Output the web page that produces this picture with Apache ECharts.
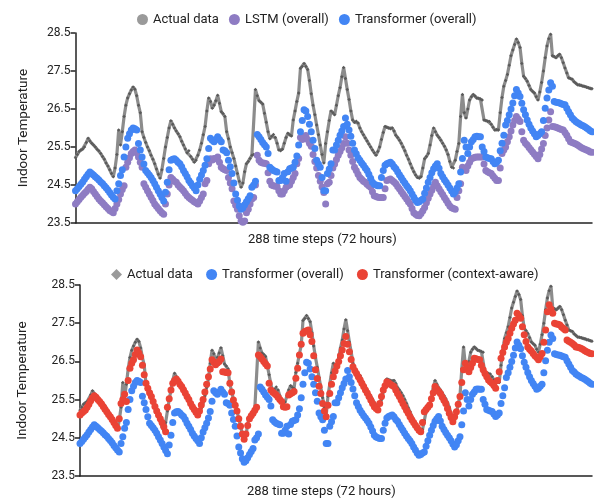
<!DOCTYPE html>
<html><head><meta charset="utf-8">
<script src="https://cdn.jsdelivr.net/npm/echarts@6/dist/echarts.min.js"></script>
<style>html,body{margin:0;padding:0;background:#fff}#c{width:594px;height:499px}</style>
</head><body><div id="c"></div>
<script>
const actual = [
25.22,25.3,25.38,25.42,25.45,25.5,25.62,25.73,25.66,25.6,
25.55,25.5,25.44,25.4,25.33,25.25,25.18,25.08,25.0,24.9,
24.8,24.72,24.95,25.3,25.95,25.55,25.9,26.3,26.6,26.79,
26.9,27.0,27.08,27.02,26.85,26.6,26.4,25.9,25.75,25.62,
25.5,25.4,25.28,25.18,25.06,24.92,24.78,24.68,24.9,25.2,
25.5,25.75,26.0,26.19,26.1,26.0,25.92,25.85,25.77,25.65,
25.55,25.45,25.35,25.4,25.25,25.18,25.1,25.15,25.28,25.42,
25.6,25.82,26.04,26.45,26.79,26.7,26.52,26.6,26.72,26.86,
26.65,26.43,26.38,26.3,25.9,25.72,25.5,25.35,25.2,25.0,
24.8,24.6,24.44,24.55,24.85,25.06,25.12,25.2,25.28,25.3,
27.01,26.85,26.72,26.68,26.63,26.39,26.15,25.9,25.72,25.78,
25.83,25.75,25.6,25.42,25.4,25.44,25.6,25.75,25.86,25.82,
25.79,26.21,26.45,26.7,26.92,27.57,27.62,27.7,27.62,27.54,
27.25,26.9,26.6,26.35,26.08,25.82,25.55,25.3,25.08,25.59,
25.9,26.2,26.45,26.4,26.35,26.6,26.85,27.06,27.35,27.59,
27.3,27.01,26.75,26.45,26.21,26.15,26.18,26.13,26.0,25.9,
25.82,25.74,25.66,25.58,25.5,25.42,25.35,25.28,25.38,25.5,
25.7,25.88,26.04,26.02,26.0,25.98,26.0,25.92,25.81,25.75,
25.68,25.6,25.5,25.4,25.28,25.18,25.06,24.95,24.85,24.76,
24.7,24.68,24.72,24.95,25.19,25.25,25.33,25.55,25.8,26.0,
25.9,25.81,25.75,25.68,25.6,25.52,25.42,25.3,25.12,24.97,
24.95,25.15,25.38,25.59,26.3,26.88,26.4,26.26,26.5,26.74,
26.82,26.88,26.84,26.79,26.78,26.76,26.74,26.21,26.2,26.18,
26.17,26.1,26.02,25.95,25.96,25.95,26.4,26.8,27.1,27.25,
27.41,27.65,27.9,28.05,28.2,28.34,28.25,28.12,27.7,27.36,
27.3,27.23,27.12,27.01,26.96,26.92,26.82,26.74,26.95,27.2,
27.5,27.85,28.16,28.35,28.47,27.9,27.88,27.85,27.9,27.94,
27.85,27.72,27.58,27.45,27.32,27.3,27.28,27.22,27.18,27.14,
27.13,27.12,27.1,27.09,27.07,27.06,27.04,27.03];

const lstm = [
24.0,24.06,24.12,24.18,24.23,24.28,24.33,24.39,24.44,24.4,
24.33,24.26,24.2,24.13,24.08,24.03,23.98,23.93,23.88,23.83,
23.8,23.77,23.88,24.0,24.12,24.26,24.38,24.48,24.97,25.1,
25.22,25.33,25.38,25.42,25.35,25.24,25.1,24.97,24.53,24.44,
24.35,24.26,24.18,24.09,24.0,23.94,23.88,23.82,23.77,23.73,
24.0,24.26,24.5,24.7,24.65,24.6,24.57,24.5,24.45,24.4,
24.35,24.28,24.22,24.17,24.13,24.1,24.06,24.03,24.0,24.08,
24.17,24.26,24.53,24.62,25.06,25.19,25.16,25.2,25.19,25.24,
25.1,24.97,24.93,24.9,24.88,24.7,24.55,24.4,24.08,23.97,
23.86,23.69,23.55,23.52,23.55,23.77,23.86,24.0,24.13,24.17,
24.5,25.28,25.15,25.1,25.08,25.07,25.06,24.82,24.6,24.5,
24.48,24.47,24.46,24.35,24.26,24.26,24.35,24.44,24.48,24.5,
24.6,24.7,24.8,25.06,25.2,25.75,25.7,25.75,25.8,25.7,
25.6,25.52,25.3,25.12,24.95,24.75,24.6,24.45,24.3,24.0,
24.53,24.57,24.75,24.95,25.05,25.17,25.28,25.38,25.48,25.59,
25.77,25.6,25.42,25.28,25.12,24.97,24.88,24.78,24.7,24.65,
24.6,24.57,24.52,24.48,24.44,24.32,24.22,24.2,24.18,24.17,
24.17,24.17,24.4,24.62,24.64,24.66,24.62,24.58,24.53,24.46,
24.4,24.33,24.26,24.2,24.13,24.06,24.0,23.88,23.77,23.73,
23.7,23.69,23.75,23.82,23.91,24.03,24.15,24.26,24.36,24.47,
24.57,24.48,24.4,24.32,24.25,24.17,24.1,24.02,23.95,23.9,
23.88,23.86,24.17,24.35,24.53,24.97,24.92,24.88,25.0,25.1,
25.19,25.21,25.23,25.24,25.24,25.24,25.24,25.05,24.88,24.85,
24.82,24.8,24.74,24.68,24.62,24.62,24.95,25.33,25.42,25.5,
25.64,25.77,25.92,26.08,26.2,26.3,26.24,26.17,25.9,25.68,
25.6,25.55,25.49,25.43,25.37,25.31,25.25,25.19,25.3,25.45,
25.59,25.8,26.0,26.21,26.43,26.04,26.03,26.02,26.0,25.98,
25.96,25.95,25.88,25.81,25.72,25.64,25.62,25.6,25.58,25.55,
25.52,25.49,25.46,25.44,25.42,25.4,25.37,25.36];

const transformer = [
24.35,24.4,24.46,24.52,24.58,24.65,24.72,24.78,24.84,24.8,
24.76,24.72,24.68,24.63,24.58,24.54,24.48,24.43,24.37,24.3,
24.24,24.18,24.13,24.35,24.53,24.75,24.9,25.24,25.5,25.73,
25.85,25.95,26.0,25.98,25.95,25.59,25.42,25.24,25.05,24.88,
24.82,24.76,24.7,24.62,24.53,24.44,24.35,24.26,24.17,24.08,
24.31,24.57,24.9,25.15,25.18,25.19,25.15,25.1,25.06,24.98,
24.88,24.8,24.72,24.62,24.55,24.48,24.42,24.35,24.5,24.65,
24.76,24.88,25.02,25.19,25.46,25.73,25.68,25.64,25.7,25.77,
25.7,25.64,25.42,25.4,25.35,25.15,24.98,24.8,24.55,24.26,
24.1,23.95,23.86,23.9,23.98,24.06,24.14,24.22,24.44,24.5,
24.6,25.83,25.77,25.7,25.62,25.56,25.5,25.33,24.97,24.92,
24.88,24.86,24.84,24.62,24.62,24.7,24.8,24.6,24.85,24.93,
24.95,24.97,25.1,25.26,25.55,25.9,26.2,26.48,26.45,26.3,
26.1,25.9,25.68,25.46,25.15,25.05,24.97,24.7,24.35,24.35,
24.8,24.92,25.06,25.42,25.42,25.55,25.68,25.81,25.92,26.04,
26.26,26.1,25.95,25.78,25.6,25.42,25.32,25.22,25.15,25.08,
25.02,24.95,24.88,24.78,24.68,24.57,24.52,24.5,24.48,24.48,
24.7,24.88,25.02,25.06,25.08,25.1,25.05,24.98,24.93,24.85,
24.77,24.7,24.62,24.55,24.48,24.42,24.35,24.26,24.18,24.1,
24.04,24.06,24.1,24.13,24.28,24.42,24.57,24.7,24.82,24.93,
25.0,25.06,24.94,24.8,24.72,24.64,24.57,24.5,24.42,24.34,
24.26,24.32,24.42,24.53,24.84,25.2,25.68,25.5,25.33,25.5,
25.64,25.7,25.77,25.78,25.77,25.77,25.5,25.38,25.24,25.22,
25.2,25.19,25.12,25.06,25.1,25.15,25.4,25.6,25.81,26.08,
26.2,26.35,26.5,26.66,26.85,27.01,26.92,26.83,26.65,26.48,
26.35,26.21,26.1,26.0,25.92,25.85,25.77,25.8,25.85,25.9,
26.2,26.52,26.79,27.0,27.19,27.1,26.7,26.68,26.67,26.66,
26.64,26.62,26.61,26.52,26.43,26.35,26.26,26.22,26.17,26.14,
26.11,26.08,26.06,26.03,26.0,25.97,25.93,25.9];

const contextAware = [
25.1,25.15,25.19,25.23,25.3,25.38,25.47,25.55,25.6,25.56,
25.5,25.45,25.39,25.32,25.25,25.18,25.11,25.05,24.98,24.9,
24.82,24.75,25.0,25.4,25.5,25.64,25.45,26.0,26.32,26.45,
26.54,26.68,26.8,26.72,26.62,26.4,26.15,25.93,25.8,25.68,
25.58,25.45,25.32,25.2,25.1,25.0,24.9,24.79,24.66,25.3,
25.52,25.75,25.93,26.0,26.04,25.98,25.9,25.84,25.76,25.67,
25.58,25.5,25.4,25.31,25.24,25.17,25.1,25.2,25.36,25.5,
25.7,25.9,26.1,26.3,26.54,26.48,26.41,26.46,26.5,26.56,
26.23,26.22,26.21,26.2,25.93,25.7,25.49,25.35,25.2,25.0,
24.8,24.6,24.46,24.6,24.82,25.0,25.08,25.14,25.22,25.3,
26.67,26.62,26.56,26.5,26.44,26.38,25.93,25.75,25.7,25.66,
25.62,25.56,25.5,25.45,25.31,25.3,25.31,25.62,25.65,25.68,
25.71,26.06,26.32,26.67,26.95,27.24,27.28,27.3,27.32,27.2,
27.02,26.65,26.28,26.05,25.85,25.66,25.4,25.2,25.05,25.35,
25.66,25.9,26.1,26.25,26.38,26.5,26.65,26.8,26.97,27.15,
26.95,26.75,26.55,26.36,26.26,26.18,26.1,26.02,25.93,25.84,
25.75,25.67,25.58,25.49,25.4,25.31,25.27,25.23,25.4,25.58,
25.75,25.86,25.97,25.94,25.9,25.87,25.84,25.75,25.66,25.58,
25.49,25.4,25.31,25.22,25.14,25.05,24.97,24.9,24.83,24.76,
24.7,24.66,24.9,25.18,25.24,25.3,25.36,25.52,25.68,25.84,
25.78,25.72,25.66,25.57,25.48,25.4,25.27,25.14,25.03,24.92,
25.05,25.18,25.38,25.58,25.95,26.28,26.45,26.34,26.23,26.34,
26.45,26.58,26.57,26.55,26.54,26.4,26.28,26.18,26.1,26.01,
25.97,25.93,25.87,25.8,26.0,26.23,26.58,26.73,26.88,27.0,
27.1,27.24,27.37,27.48,27.58,27.76,27.7,27.63,27.41,27.2,
27.02,26.88,26.82,26.77,26.71,26.65,26.6,26.54,26.62,26.71,
27.0,27.32,27.8,27.98,27.87,27.76,27.5,27.48,27.47,27.45,
27.4,27.36,27.32,27.06,27.03,27.0,26.97,26.93,26.88,26.87,
26.86,26.84,26.81,26.78,26.75,26.73,26.71,26.7];

const yTicks = [23.5, 24.5, 25.5, 26.5, 27.5, 28.5];
const xTitle = '288 time steps (72 hours)';
const yTitle = 'Indoor Temperature';
const topLegend = ['Actual data', 'LSTM (overall)', 'Transformer (overall)'];
const bottomLegend = ['Actual data', 'Transformer (overall)', 'Transformer (context-aware)'];

const FONT = 'Roboto';
const C_GRAY = '#8c8c8c', C_MARK = '#5a5a5a', C_PURPLE = '#8e7cc3', C_BLUE = '#4285f4', C_RED = '#ea4335';
const pairs = arr => arr.map((v, i) => [i, v]);

function yAxisCfg(gridIndex, gap) {
  return {
    type: 'value', gridIndex, min: yTicks[0], max: yTicks[yTicks.length - 1], interval: 1,
    name: yTitle, nameLocation: 'middle', nameGap: gap, nameRotate: 90,
    nameTextStyle: { fontFamily: FONT, fontSize: 13.5, color: '#222' },
    axisLine: { show: true, lineStyle: { color: '#222', width: 1.5 } },
    axisTick: { show: true, length: 5, lineStyle: { color: '#222', width: 1.5 } },
    axisLabel: { fontFamily: FONT, fontSize: 12, color: '#222', margin: 5, formatter: v => v.toFixed(1) },
    splitLine: { show: false }
  };
}
function xAxisCfg(gridIndex) {
  return {
    type: 'value', gridIndex, min: 0, max: actual.length - 1,
    axisLine: { show: true, onZero: false, lineStyle: { color: '#222', width: 1.5 } },
    axisTick: { show: false }, axisLabel: { show: false }, splitLine: { show: false }
  };
}
function lineSeries(xi, yi, name) {
  return {
    type: 'line', name, xAxisIndex: xi, yAxisIndex: yi, data: pairs(actual),
    symbol: 'diamond', symbolSize: 3.5, showSymbol: true,
    itemStyle: { color: C_MARK }, lineStyle: { color: C_GRAY, width: 3.2 }, z: 1
  };
}
function dotSeries(xi, yi, name, arr, color, z) {
  return {
    type: 'scatter', name, xAxisIndex: xi, yAxisIndex: yi, data: pairs(arr),
    symbolSize: 7, itemStyle: { color, opacity: 1 }, z
  };
}

const chart = echarts.init(document.getElementById('c'), null, { renderer: 'canvas' });
chart.setOption({
  animation: false,
  backgroundColor: '#fff',
  textStyle: { fontFamily: FONT },
  grid: [
    { left: 75.5, right: 2, top: 33, height: 190 },
    { left: 80, right: 2, top: 285, height: 191 }
  ],
  xAxis: [xAxisCfg(0), xAxisCfg(1)],
  yAxis: [yAxisCfg(0, 45), yAxisCfg(1, 50)],
  legend: [
    {
      left: 132, top: 8, itemWidth: 11, itemHeight: 11, itemGap: 10,
      textStyle: { fontFamily: FONT, fontSize: 13, color: '#222' },
      data: [
        { name: topLegend[0], icon: 'circle', itemStyle: { color: '#9a9a9a' } },
        { name: topLegend[1], icon: 'circle' },
        { name: topLegend[2], icon: 'circle' }
      ]
    },
    {
      left: 106, top: 263, itemWidth: 11, itemHeight: 11, itemGap: 10,
      textStyle: { fontFamily: FONT, fontSize: 13, color: '#222' },
      data: [
        { name: bottomLegend[0] + ' ', icon: 'diamond', itemStyle: { color: '#9a9a9a' } },
        { name: bottomLegend[1] + ' ', icon: 'circle' },
        { name: bottomLegend[2], icon: 'circle' }
      ]
    }
  ],
  graphic: [
    { type: 'text', left: 323 - 75, top: 233, style: { text: xTitle, font: '13px ' + FONT, fill: '#222' } },
    { type: 'text', left: 322 - 75, top: 485, style: { text: xTitle, font: '13px ' + FONT, fill: '#222' } }
  ],
  series: [
    lineSeries(0, 0, topLegend[0]),
    dotSeries(0, 0, topLegend[1], lstm, C_PURPLE, 2),
    dotSeries(0, 0, topLegend[2], transformer, C_BLUE, 3),
    lineSeries(1, 1, bottomLegend[0] + ' '),
    dotSeries(1, 1, bottomLegend[1] + ' ', transformer, C_BLUE, 2),
    dotSeries(1, 1, bottomLegend[2], contextAware, C_RED, 3)
  ]
});
</script></body></html>
